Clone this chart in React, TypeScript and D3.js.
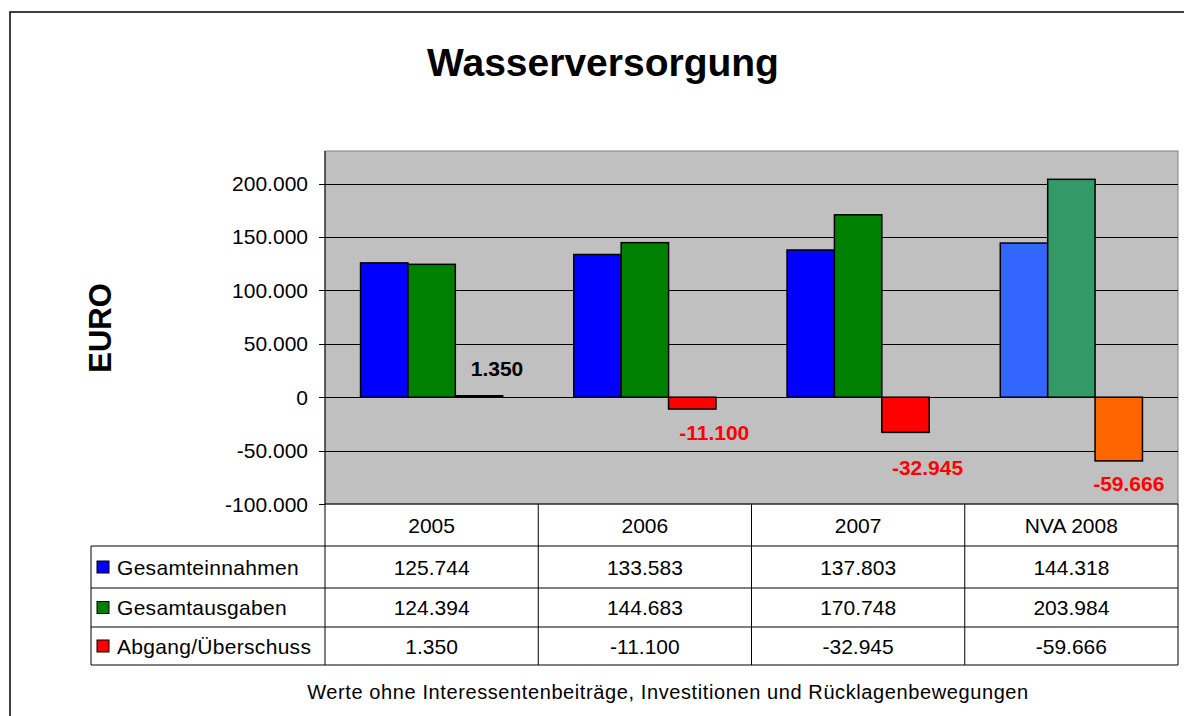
import React from 'react'
import * as d3 from 'd3'

// chart data
const categories = ['2005', '2006', '2007', 'NVA 2008']
const seriesNames = ['Gesamteinnahmen', 'Gesamtausgaben', 'Abgang/Überschuss']
const einnahmen = [125744, 133583, 137803, 144318]
const ausgaben = [124394, 144683, 170748, 203984]
const saldo = [1350, -11100, -32945, -59666]
const yTicks = [-100000, -50000, 0, 50000, 100000, 150000, 200000]
const seriesColors = ['#0000FF', '#008000', '#FF0000']
const forecastColors = ['#3366FF', '#339966', '#FF6600']

const title = 'Wasserversorgung'
const yTitle = 'EURO'
const footnote = 'Werte ohne Interessentenbeiträge, Investitionen und Rücklagenbewegungen'

const W = 1184, H = 716
const plot = { left: 325, right: 1178, top: 151, bottom: 504 }
const font = '"Liberation Sans", Arial, sans-serif'

// hand placement of the balance labels (dx, dy from the bar end)
const labelNudge = [[18, -27], [22, 23], [22, 35], [10, 23]]

const de = d3.formatLocale({ decimal: ',', thousands: '.', grouping: [3], currency: ['', '€'], minus: '-' })
const fmt = de.format(',.0f')

export default function App() {
  const series = [einnahmen, ausgaben, saldo]

  const x = d3.scaleBand<string>().domain(categories).range([plot.left, plot.right])
  const bw = x.bandwidth()
  const sub = d3.scaleBand<number>().domain([0, 1, 2]).range([0, bw]).paddingInner(0).paddingOuter(0.75)
  const y = d3.scaleLinear().domain([-100000, 230500]).range([plot.bottom, plot.top])

  // table rows: header, then one per series
  const rowLines = [plot.bottom, 546, 588, 627, 665]
  const rowMid = (i: number) => (rowLines[i] + rowLines[i + 1]) / 2
  const tableLeft = 91

  return (
    <div style={{ position: 'absolute', left: 0, top: 0 }}>
      <svg width={W} height={H} style={{ display: 'block', fontFamily: font }}>
        <rect x={0} y={0} width={W} height={H} fill="#fff" />
        <rect x={10} y={12} width={W + 20} height={H + 20} fill="none" stroke="#000" strokeWidth={1.5} />

        <text x={603} y={62} textAnchor="middle" dominantBaseline="central" fontSize={39} fontWeight="bold">{title}</text>

        {/* plot area */}
        <rect x={plot.left} y={plot.top} width={plot.right - plot.left} height={plot.bottom - plot.top}
          fill="#C0C0C0" stroke="#808080" strokeWidth={1} />
        {yTicks.map(t => (
          <g key={t}>
            {t > -100000 && (
              <line x1={plot.left} x2={plot.right} y1={Math.round(y(t)) + 0.5} y2={Math.round(y(t)) + 0.5} stroke="#000" strokeWidth={1} />
            )}
            <line x1={plot.left - 6} x2={plot.left} y1={Math.round(y(t)) + 0.5} y2={Math.round(y(t)) + 0.5} stroke="#000" strokeWidth={1} />
            <text x={308} y={y(t)} textAnchor="end" dominantBaseline="central" fontSize={21}>{fmt(t)}</text>
          </g>
        ))}
        <line x1={plot.left} x2={plot.left} y1={plot.top} y2={plot.bottom} stroke="#000" strokeWidth={1} />

        <text transform={`translate(100, 328) rotate(-90)`} textAnchor="middle" dominantBaseline="central"
          fontSize={31} fontWeight="bold">{yTitle}</text>

        {/* bars */}
        {categories.map((c, ci) => (
          <g key={c}>
            {series.map((s, si) => {
              const v = s[ci]
              const x0 = (x(c) as number) + (sub(si) as number)
              const y0 = y(Math.max(0, v)), y1 = y(Math.min(0, v))
              const col = ci === categories.length - 1 ? forecastColors[si] : seriesColors[si]
              return <rect key={si} x={x0} y={y0} width={sub.bandwidth()} height={Math.max(1, y1 - y0)}
                fill={col} stroke="#000" strokeWidth={1.5} />
            })}
          </g>
        ))}

        {/* balance labels */}
        {saldo.map((v, ci) => {
          const cx = (x(categories[ci]) as number) + (sub(2) as number) + sub.bandwidth() / 2
          return (
            <text key={ci} x={cx + labelNudge[ci][0]} y={y(v) + labelNudge[ci][1]} textAnchor="middle"
              dominantBaseline="central" fontSize={21} fontWeight="bold" fill={v < 0 ? '#FF0000' : '#000'}>{fmt(v)}</text>
          )
        })}

        {/* data table */}
        <g stroke="#000" strokeWidth={1}>
          <line x1={plot.left} x2={plot.right} y1={plot.bottom} y2={plot.bottom} />
          <line x1={tableLeft} x2={plot.right} y1={rowLines[1]} y2={rowLines[1]} />
          <line x1={tableLeft} x2={plot.right} y1={rowLines[2]} y2={rowLines[2]} />
          <line x1={tableLeft} x2={plot.right} y1={rowLines[3]} y2={rowLines[3]} />
          <line x1={tableLeft} x2={plot.right} y1={rowLines[4]} y2={rowLines[4]} />
          <line x1={tableLeft} x2={tableLeft} y1={rowLines[1]} y2={rowLines[4]} />
          <line x1={plot.left} x2={plot.left} y1={plot.bottom} y2={rowLines[4]} />
          {categories.map(c => {
            const xr = (x(c) as number) + bw
            return <line key={c} x1={xr} x2={xr} y1={plot.bottom} y2={rowLines[4]} />
          })}
        </g>
        {categories.map(c => (
          <text key={c} x={(x(c) as number) + bw / 2} y={rowMid(0)} textAnchor="middle" dominantBaseline="central" fontSize={21}>{c}</text>
        ))}
        {series.map((s, si) => (
          <g key={si}>
            <rect x={97} y={rowMid(si + 1) - 6} width={12} height={12} fill={seriesColors[si]} stroke="#000" strokeWidth={1} />
            <text x={117} y={rowMid(si + 1)} dominantBaseline="central" fontSize={21} letterSpacing={0.3}>{seriesNames[si]}</text>
            {s.map((v, ci) => (
              <text key={ci} x={(x(categories[ci]) as number) + bw / 2} y={rowMid(si + 1)} textAnchor="middle"
                dominantBaseline="central" fontSize={21}>{fmt(v)}</text>
            ))}
          </g>
        ))}

        <text x={668} y={692} textAnchor="middle" dominantBaseline="central" fontSize={20} letterSpacing={0.6}>{footnote}</text>
      </svg>
    </div>
  )
}
